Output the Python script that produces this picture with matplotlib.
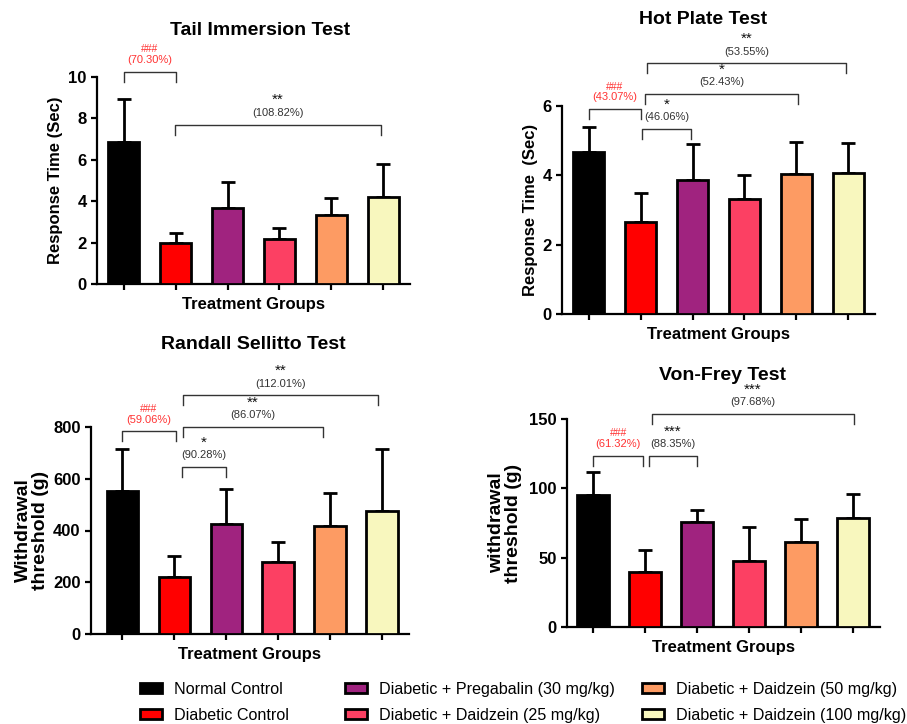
import matplotlib
matplotlib.use("Agg")
import matplotlib.pyplot as plt
from matplotlib.patches import Patch

plt.rcParams['font.family'] = ['Liberation Sans', 'DejaVu Sans']

# groups and colours
groups = ['Normal Control', 'Diabetic Control', 'Diabetic + Pregabalin (30 mg/kg)',
          'Diabetic + Daidzein (25 mg/kg)', 'Diabetic + Daidzein (50 mg/kg)',
          'Diabetic + Daidzein (100 mg/kg)']
colors = ['#000000', '#FF0000', '#A0237F', '#FC4063', '#FD9B63', '#F8F7BE']

# means and upper error
tail_mean = [6.85, 2.0, 3.65, 2.15, 3.35, 4.2]
tail_err = [2.1, 0.46, 1.28, 0.54, 0.79, 1.58]
hot_mean = [4.68, 2.65, 3.87, 3.32, 4.05, 4.07]
hot_err = [0.72, 0.83, 1.03, 0.70, 0.92, 0.85]
rs_mean = [553, 222, 425, 277, 417, 476]
rs_err = [161, 78, 135, 77, 129, 238]
vf_mean = [95.3, 39.4, 75.4, 47.3, 61, 78.7]
vf_err = [16.7, 16.0, 9.1, 24.5, 17.2, 17.1]

# significance brackets: (from, to, bracket top, stars, percent, red?)
tail_sig = [(0, 1, 10.26, '###', '(70.30%)', True),
            (0.98, 4.96, 7.7, '**', '(108.82%)', False)]
hot_sig = [(0, 1, 5.91, '###', '(43.07%)', True),
           (1.03, 1.97, 5.34, '*', '(46.06%)', False),
           (1.08, 4.03, 6.35, '*', '(52.43%)', False),
           (1.12, 4.96, 7.23, '**', '(53.55%)', False)]
rs_sig = [(0, 1.03, 783, '###', '(59.06%)', True),
          (1.15, 2.0, 646, '*', '(90.28%)', False),
          (1.17, 3.87, 800, '**', '(86.07%)', False),
          (1.18, 4.93, 922, '**', '(112.01%)', False)]
vf_sig = [(0, 0.97, 123.4, '###', '(61.32%)', True),
          (1.07, 2.0, 123.4, '***', '(88.35%)', False),
          (1.13, 5.02, 153.4, '***', '(97.68%)', False)]

fig = plt.figure(figsize=(9.07, 7.24), dpi=100)
W, H = 907, 724


def px_axes(left, top, right, bottom):
    return fig.add_axes([left / W, 1 - bottom / H, (right - left) / W, (bottom - top) / H])


def panel(ax, means, errs, ymax, yticks, title, title_xy, ylabel, ylabel_x, ylabel_size,
          sigs, xmin=-0.52):
    x = list(range(len(means)))
    ax.bar(x, means, width=0.6, color=colors, edgecolor='black', linewidth=2, zorder=3)
    ax.errorbar(x, means, yerr=[[0] * len(errs), errs], fmt='none', ecolor='black',
                elinewidth=2, capsize=5, capthick=2, zorder=2)
    ax.set_xlim(xmin, 5.52)
    ax.set_ylim(0, ymax)
    ax.set_yticks(yticks)
    ax.set_xticks(x)
    ax.set_xticklabels([])
    for s in ['top', 'right']:
        ax.spines[s].set_visible(False)
    for s in ['left', 'bottom']:
        ax.spines[s].set_linewidth(1.6)
    ax.tick_params(axis='both', direction='out', length=4, width=1.6)
    for lab in ax.get_yticklabels():
        lab.set_fontweight('bold')
        lab.set_fontsize(12)
    ax.text(title_xy[0], title_xy[1], title, transform=ax.transAxes, ha='center',
            va='center', fontsize=14, fontweight='bold')
    ax.text(0.5, -0.10, 'Treatment Groups', transform=ax.transAxes, ha='center',
            va='center', fontsize=12, fontweight='bold')
    ax.text(ylabel_x, 0.5, ylabel, transform=ax.transAxes, ha='center', va='center',
            rotation=90, fontsize=ylabel_size, fontweight='bold', linespacing=1.0)
    drop = 0.048 * ymax
    for x0, x1, top, stars, pct, red in sigs:
        tc = '#FF3333' if red else '#333333'
        ax.plot([x0, x0, x1, x1], [top - drop, top, top, top - drop], color='#333333',
                lw=1, clip_on=False)
        mid = (x0 + x1) / 2
        ax.annotate(pct, (mid, top), xytext=(0, 8.5), textcoords='offset points',
                    ha='center', va='center', fontsize=8, color=tc, annotation_clip=False)
        if red:
            ax.annotate(stars, (mid, top), xytext=(0, 12.6), textcoords='offset points',
                        ha='center', va='bottom', fontsize=7.5, color=tc,
                        annotation_clip=False)
        else:
            ax.annotate(stars, (mid, top), xytext=(0, 12.6), textcoords='offset points',
                        ha='center', va='bottom', fontsize=11, color='#111111',
                        annotation_clip=False)


ax1 = px_axes(97, 77, 410, 284)
panel(ax1, tail_mean, tail_err, 10, [0, 2, 4, 6, 8, 10], 'Tail Immersion Test',
      (0.52, 1.225), 'Response Time (Sec)', -0.134, 12, tail_sig)

ax2 = px_axes(562, 106, 875, 314)
panel(ax2, hot_mean, hot_err, 6, [0, 2, 4, 6], 'Hot Plate Test', (0.45, 1.415),
      'Response Time  (Sec)', -0.102, 12, hot_sig)

ax3 = px_axes(91, 427, 409, 634)
panel(ax3, rs_mean, rs_err, 800, [0, 200, 400, 600, 800], 'Randall Sellitto Test',
      (0.51, 1.40), 'Withdrawal\nthreshold (g)', -0.186, 14, rs_sig, xmin=-0.6)

ax4 = px_axes(567, 419, 880, 627)
panel(ax4, vf_mean, vf_err, 150, [0, 50, 100, 150], 'Von-Frey Test', (0.498, 1.21),
      'withdrawal\nthreshold (g)', -0.198, 14, vf_sig, xmin=-0.5)

# legend in three columns
handles = [Patch(facecolor=c, edgecolor='black', linewidth=2) for c in colors]
for k, left in enumerate([140, 345, 642]):
    fig.legend(handles[2 * k:2 * k + 2], groups[2 * k:2 * k + 2], loc='upper left',
               bbox_to_anchor=(left / W, 1 - 682 / H), frameon=False,
               prop={'family': 'Liberation Sans', 'size': 11.6},
               borderpad=0, borderaxespad=0, handlelength=1.35, handleheight=0.6,
               handletextpad=0.75, labelspacing=0.66)

fig.savefig('out.png', dpi=100)
